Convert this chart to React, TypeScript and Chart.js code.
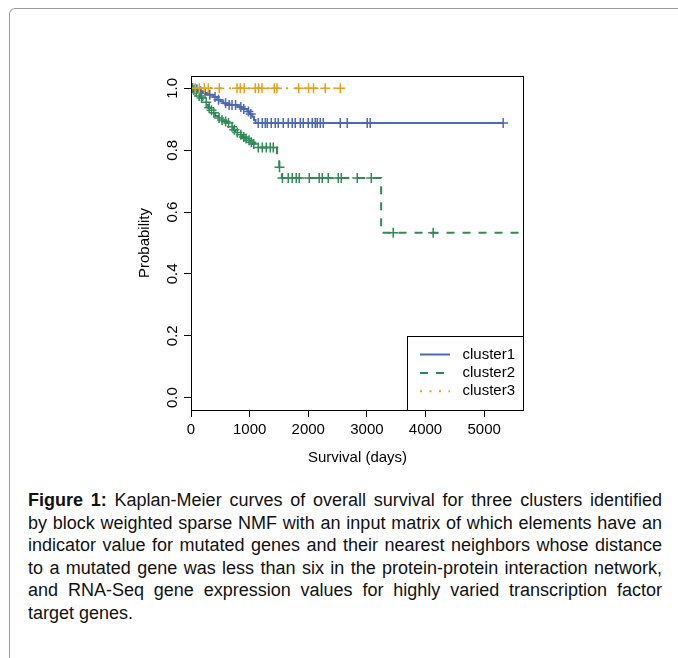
import React, { useEffect, useRef } from "react";
import { Chart, registerables } from "chart.js";

Chart.register(...registerables);

// ---------- data ----------
const seriesNames = ["cluster1", "cluster2", "cluster3"];
const seriesColors = ["#4A68B5", "#2F8A57", "#E4A21E"];

const xTickValues = [0, 1000, 2000, 3000, 4000, 5000];
const yTickValues = [0, 0.2, 0.4, 0.6, 0.8, 1.0];

const cluster1EventDays = [40, 120, 200, 280, 380, 448, 500, 550, 619, 807, 875, 960, 1000, 1045, 1075, 1100];
const cluster1Survival = [0.997, 0.991, 0.985, 0.979, 0.972, 0.963, 0.958, 0.952, 0.946, 0.94, 0.933, 0.925, 0.917, 0.908, 0.898, 0.888];
const cluster1LastDay = 5325;
const cluster1CensorDays = [30, 70, 100, 160, 240, 320, 410, 470, 590, 650, 700, 760, 850, 900, 980, 1020,
  1147, 1216, 1267, 1301, 1369, 1437, 1488, 1574, 1659, 1727, 1778, 1864, 1915, 2000, 2068, 2119, 2153, 2205, 2256,
  2546, 2665, 3006, 3057, 5325];

const cluster2EventDays = [30, 70, 107, 130, 158, 200, 244, 270, 295, 330, 363, 414, 460, 500, 560, 619, 670, 720, 755,
  820, 874, 920, 960, 1010, 1045, 1096, 1467, 1505, 1550, 3243];
const cluster2Survival = [0.994, 0.988, 0.982, 0.975, 0.969, 0.962, 0.955, 0.946, 0.937, 0.929, 0.921, 0.911, 0.904, 0.898,
  0.893, 0.888, 0.876, 0.866, 0.857, 0.85, 0.843, 0.838, 0.832, 0.826, 0.82, 0.809, 0.77, 0.745, 0.71, 0.533];
const cluster2LastDay = 5800;
const cluster2CensorDays = [20, 50, 90, 140, 180, 260, 310, 350, 390, 480, 530, 590, 640, 700, 740, 790, 850, 900, 940, 990,
  1030, 1070, 1147, 1216, 1284, 1352, 1403, 1510, 1560, 1659, 1727, 1795, 1846, 2017, 2187, 2239, 2341, 2512, 2563, 2836,
  3075, 3449, 4131];

const cluster3EventDays: number[] = [];
const cluster3Survival: number[] = [];
const cluster3LastDay = 2546;
const cluster3CensorDays = [73, 141, 227, 295, 482, 784, 841, 909, 1096, 1153, 1211, 1420, 1466, 1835, 2005, 2090, 2289, 2546];

const captionLines = [
  " Kaplan-Meier curves of overall survival for three clusters identified",
  "by block weighted sparse NMF with an input matrix of which elements have an",
  "indicator value for mutated genes and their nearest neighbors whose distance",
  "to a mutated gene was less than six in the protein-protein interaction network,",
  "and RNA-Seq gene expression values for highly varied transcription factor",
  "target genes.",
];

// ---------- helpers ----------
const FONT_FAMILY = '"Liberation Sans", Arial, Helvetica, sans-serif';

function stepPoints(days: number[], surv: number[], lastDay: number) {
  const pts = [{ x: 0, y: 1 }];
  days.forEach((d, i) => pts.push({ x: d, y: surv[i] }));
  pts.push({ x: lastDay, y: surv.length ? surv[surv.length - 1] : 1 });
  return pts;
}

function survivalAt(days: number[], surv: number[], t: number) {
  let s = 1;
  for (let i = 0; i < days.length; i++) if (days[i] <= t) s = surv[i];
  return s;
}

const curveDashes = [[], [8, 8], [2, 7.5]];

const groups = [
  { days: cluster1EventDays, surv: cluster1Survival, last: cluster1LastDay, censor: cluster1CensorDays },
  { days: cluster2EventDays, surv: cluster2Survival, last: cluster2LastDay, censor: cluster2CensorDays },
  { days: cluster3EventDays, surv: cluster3Survival, last: cluster3LastDay, censor: cluster3CensorDays },
];

const frameAndLegend = {
  id: "frameAndLegend",
  afterDatasetsDraw(chart: any) {
    const { ctx, chartArea: a } = chart;
    ctx.save();
    ctx.strokeStyle = "#000";
    ctx.lineWidth = 1;
    ctx.setLineDash([]);
    ctx.strokeRect(a.left + 0.5, a.top + 0.5, a.right - a.left - 1, a.bottom - a.top);
    // legend (bottom right)
    const bw = 117;
    const bh = 74;
    const bx = a.right - bw;
    const by = a.bottom - bh;
    ctx.fillStyle = "#fff";
    ctx.fillRect(bx, by, bw, bh);
    ctx.strokeRect(bx + 0.5, by + 0.5, bw - 1, bh);
    const curves = chart.data.datasets.filter((d: any) => d.isCurve);
    curves.forEach((d: any, i: number) => {
      const y = by + 18.5 + i * 18.4;
      ctx.beginPath();
      ctx.strokeStyle = d.borderColor;
      ctx.lineWidth = 2;
      ctx.setLineDash(d.borderDash || []);
      ctx.moveTo(bx + 13, y);
      ctx.lineTo(bx + 43, y);
      ctx.stroke();
      ctx.setLineDash([]);
      ctx.fillStyle = "#000";
      ctx.font = `15px ${FONT_FAMILY}`;
      ctx.textAlign = "left";
      ctx.textBaseline = "middle";
      ctx.fillText(d.label, bx + 55.5, y);
    });
    ctx.restore();
  },
};

export default function App() {
  const ref = useRef<HTMLCanvasElement>(null);

  useEffect(() => {
    const datasets: any[] = [];
    groups.forEach((g, i) => {
      datasets.push({
        label: seriesNames[i],
        isCurve: true,
        data: stepPoints(g.days, g.surv, g.last),
        showLine: true,
        stepped: true,
        borderColor: seriesColors[i],
        backgroundColor: seriesColors[i],
        borderWidth: 2,
        borderDash: curveDashes[i],
        pointRadius: 0,
        fill: false,
        order: 3 - i,
      });
    });
    groups.forEach((g, i) => {
      datasets.push({
        label: seriesNames[i] + " censored",
        isCurve: false,
        data: g.censor.map((t) => ({ x: t, y: survivalAt(g.days, g.surv, t) })),
        showLine: false,
        pointStyle: "cross",
        pointRadius: 5,
        pointBorderWidth: 1.5,
        borderColor: seriesColors[i],
        backgroundColor: seriesColors[i],
        order: 3 - i,
      });
    });

    const tickFont = { family: FONT_FAMILY, size: 15 };
    const chart = new Chart(ref.current as HTMLCanvasElement, {
      type: "scatter",
      data: { datasets },
      options: {
        responsive: false,
        animation: false,
        devicePixelRatio: 1,
        layout: { padding: { left: 0, right: 16, top: 20, bottom: 0 } },
        plugins: { legend: { display: false }, tooltip: { enabled: false } },
        events: [],
        scales: {
          x: {
            type: "linear",
            min: 0,
            max: 5680,
            afterBuildTicks: (s: any) => {
              s.ticks = xTickValues.map((v) => ({ value: v }));
            },
            afterFit: (s: any) => {
              s.height = 57;
            },
            ticks: {
              callback: (v: any) => String(v),
              font: tickFont,
              color: "#000",
              padding: 4,
              maxRotation: 0,
              autoSkip: false,
            },
            grid: { drawOnChartArea: false, drawTicks: true, tickLength: 7, color: "#000", lineWidth: 1 },
            border: { display: false },
            title: { display: true, text: "Survival (days)", font: tickFont, color: "#000", padding: 0 },
          },
          y: {
            type: "linear",
            min: -0.04,
            max: 1.04,
            afterBuildTicks: (s: any) => {
              s.ticks = yTickValues.map((v) => ({ value: v }));
            },
            afterFit: (s: any) => {
              s.width = 55;
            },
            ticks: {
              callback: (v: any) => Number(v).toFixed(1),
              font: tickFont,
              color: "#000",
              padding: 1,
              minRotation: 90,
              maxRotation: 90,
              crossAlign: "center",
              autoSkip: false,
            },
            grid: { drawOnChartArea: false, drawTicks: true, tickLength: 7, color: "#000", lineWidth: 1 },
            border: { display: false },
            title: { display: true, text: "Probability", font: tickFont, color: "#000", padding: 0 },
          },
        },
      } as any,
      plugins: [frameAndLegend],
    });
    return () => chart.destroy();
  }, []);

  return (
    <div style={{ position: "fixed", inset: 0, overflow: "hidden", background: "#fff" }}>
      <div
        style={{
          position: "absolute",
          left: 9,
          top: 8,
          width: 669,
          height: 650,
          borderLeft: "1px solid #9a9a9a",
          borderTop: "1px solid #9a9a9a",
          borderTopLeftRadius: 6,
          boxSizing: "border-box",
        }}
      />
      <canvas
        ref={ref}
        width={404}
        height={411}
        style={{ position: "absolute", left: 136, top: 56, width: 404, height: 411 }}
      />
      <div
        style={{
          position: "absolute",
          left: 28,
          top: 489,
          width: 634,
          fontFamily: FONT_FAMILY,
          fontSize: 18,
          lineHeight: "22.6px",
          color: "#111",
        }}
      >
        {captionLines.map((line, i) => (
          <div
            key={i}
            style={{
              whiteSpace: "nowrap",
              textAlign: "justify",
              textAlignLast: i < captionLines.length - 1 ? "justify" : "left",
            }}
          >
            {i === 0 ? <b>Figure 1:</b> : null}
            {line}
          </div>
        ))}
      </div>
    </div>
  );
}
